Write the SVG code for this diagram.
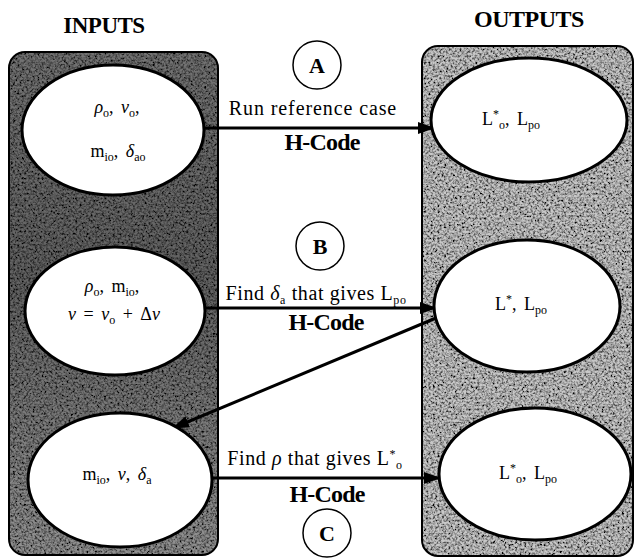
<svg xmlns="http://www.w3.org/2000/svg" width="636" height="560" viewBox="0 0 636 560">
<style>
  text { font-family: "Liberation Serif", "Times New Roman", serif; fill: #000; }
  .title { font-size: 23px; font-weight: bold; text-anchor: middle; letter-spacing: -0.5px; }
  .hcode { font-size: 24px; font-weight: bold; text-anchor: middle; letter-spacing: -0.8px; }
  .lbl { font-size: 20px; text-anchor: middle; }
  .math { font-size: 18px; text-anchor: middle; word-spacing: 3px; }
  .gr { font-style: italic; }
  .sub { font-size: 12px; }
  .step { font-size: 22px; font-weight: bold; text-anchor: middle; }
  .node { fill: #fff; stroke: #000; stroke-width: 3; }
  .panelEdge { fill: none; stroke: #000; stroke-width: 2; }
  .conn { stroke: #000; stroke-width: 3; fill: none; marker-end: url(#arrow); }
  .ring { fill: #fff; stroke: #000; stroke-width: 1.5; }
</style>
<defs>
  <marker id="arrow" markerUnits="userSpaceOnUse" markerWidth="18" markerHeight="14" refX="16" refY="7" orient="auto">
    <path d="M0,1 L17,7 L0,13 Z" fill="#000"/>
  </marker>
  <linearGradient id="gLeft" x1="0" y1="0" x2="0" y2="1">
    <stop offset="0" stop-color="#737373"/>
    <stop offset="0.45" stop-color="#626262"/>
    <stop offset="1" stop-color="#929292"/>
  </linearGradient>
  <filter id="grain" x="0" y="0" width="1" height="1">
    <feTurbulence type="fractalNoise" baseFrequency="0.45" numOctaves="3" seed="7" result="n"/>
    <feColorMatrix in="n" type="matrix" values="0 0 0 0 0  0 0 0 0 0  0 0 0 0 0  2.4 0 0 0 -0.85" result="dots"/>
    <feComposite in="dots" in2="SourceAlpha" operator="in" result="dotsIn"/>
    <feMerge><feMergeNode in="SourceGraphic"/><feMergeNode in="dotsIn"/></feMerge>
  </filter>
</defs>

<rect width="636" height="560" fill="#fff"/>

<text class="title" x="104" y="33">INPUTS</text>
<text class="title" x="529" y="27" style="font-size:24px">OUTPUTS</text>

<g id="panel-inputs">
  <rect x="9" y="52" width="209" height="503" rx="16" fill="url(#gLeft)" filter="url(#grain)"/>
  <rect x="9" y="52" width="209" height="503" rx="16" class="panelEdge"/>
</g>
<g id="panel-outputs">
  <rect x="422" y="46" width="211" height="510" rx="16" fill="#c8c8c8" filter="url(#grain)"/>
  <rect x="422" y="46" width="211" height="510" rx="16" class="panelEdge"/>
</g>

<g id="connectors">
  <line class="conn" x1="204" y1="128" x2="434" y2="128"/>
  <line class="conn" x1="205" y1="308" x2="436" y2="308"/>
  <line class="conn" x1="212" y1="478" x2="440" y2="478"/>
  <line class="conn" x1="436" y1="318" x2="173" y2="428"/>
  <text class="lbl" x="313" y="115" style="letter-spacing:0.9px">Run reference case</text>
  <text class="hcode" x="322" y="150">H-Code</text>
  <text class="lbl" x="316" y="300" style="letter-spacing:0.6px">Find <tspan class="gr">δ</tspan><tspan class="sub" dy="4">a</tspan><tspan dy="-4"> that gives L</tspan><tspan class="sub" dy="4">po</tspan></text>
  <text class="hcode" x="326" y="330">H-Code</text>
  <text class="lbl" x="315" y="465" style="letter-spacing:0.6px">Find <tspan class="gr">ρ</tspan> that gives L<tspan class="sub" dy="-7">*</tspan><tspan class="sub" dy="11">o</tspan></text>
  <text class="hcode" x="327" y="502">H-Code</text>
</g>

<g id="step-A">
  <circle class="ring" cx="317" cy="65" r="24"/>
  <text class="step" x="317" y="73">A</text>
</g>
<g id="step-B">
  <circle class="ring" cx="320" cy="246" r="24"/>
  <text class="step" x="320" y="254">B</text>
</g>
<g id="step-C">
  <circle class="ring" cx="327" cy="533" r="24"/>
  <text class="step" x="327" y="541">C</text>
</g>

<g id="in-A">
  <ellipse class="node" cx="113" cy="130" rx="91" ry="65"/>
  <text class="math" x="117" y="113"><tspan class="gr">ρ</tspan><tspan class="sub" dy="4">o</tspan><tspan dy="-4">, </tspan><tspan class="gr">ν</tspan><tspan class="sub" dy="4">o</tspan><tspan dy="-4">,</tspan></text>
  <text class="math" x="118" y="157">m<tspan class="sub" dy="4">io</tspan><tspan dy="-4">, </tspan><tspan class="gr">δ</tspan><tspan class="sub" dy="4">ao</tspan></text>
</g>
<g id="out-A">
  <ellipse class="node" cx="529" cy="120" rx="98" ry="62"/>
  <text class="math" x="511" y="125">L<tspan class="sub" dy="-7">*</tspan><tspan class="sub" dy="11">o</tspan><tspan dy="-4">, L</tspan><tspan class="sub" dy="4">po</tspan></text>
</g>

<g id="in-B">
  <ellipse class="node" cx="115" cy="311" rx="90" ry="64"/>
  <text class="math" x="112" y="292"><tspan class="gr">ρ</tspan><tspan class="sub" dy="4">o</tspan><tspan dy="-4">, m</tspan><tspan class="sub" dy="4">io</tspan><tspan dy="-4">,</tspan></text>
  <text class="math" x="114" y="320"><tspan class="gr">ν</tspan> = <tspan class="gr">ν</tspan><tspan class="sub" dy="4">o</tspan><tspan dy="-4"> + Δ</tspan><tspan class="gr">ν</tspan></text>
</g>
<g id="out-B">
  <ellipse class="node" cx="527" cy="306" rx="93" ry="66"/>
  <text class="math" x="521" y="310">L<tspan class="sub" dy="-7">*</tspan><tspan dy="7">, L</tspan><tspan class="sub" dy="4">po</tspan></text>
</g>

<g id="in-C">
  <ellipse class="node" cx="120" cy="480" rx="92" ry="67"/>
  <text class="math" x="117" y="480">m<tspan class="sub" dy="4">io</tspan><tspan dy="-4">, </tspan><tspan class="gr">ν</tspan>, <tspan class="gr">δ</tspan><tspan class="sub" dy="4">a</tspan></text>
</g>
<g id="out-C">
  <ellipse class="node" cx="535" cy="474" rx="96" ry="66"/>
  <text class="math" x="528" y="479">L<tspan class="sub" dy="-7">*</tspan><tspan class="sub" dy="11">o</tspan><tspan dy="-4">, L</tspan><tspan class="sub" dy="4">po</tspan></text>
</g>
</svg>
